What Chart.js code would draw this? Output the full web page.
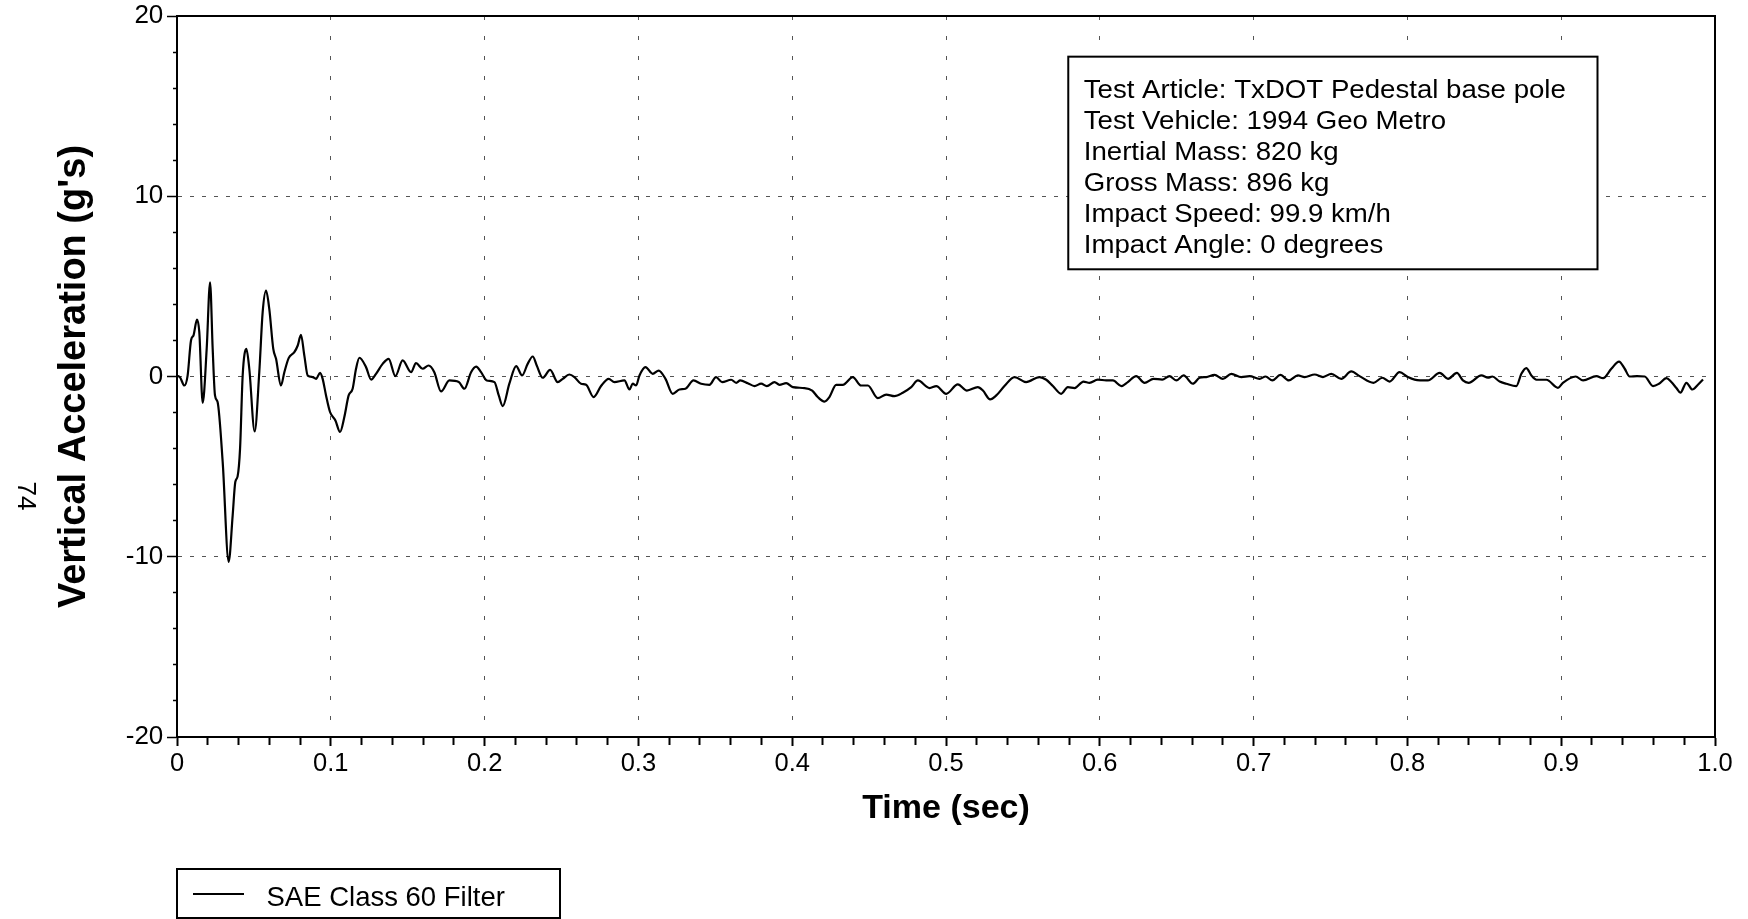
<!DOCTYPE html>
<html>
<head>
<meta charset="utf-8">
<script src="https://cdn.jsdelivr.net/npm/chart.js@4/dist/chart.umd.min.js"></script>
<style>
  html, body { margin: 0; padding: 0; background: #fff; }
  #c { display: block; }
</style>
</head>
<body>
<canvas id="c" width="1748" height="919"></canvas>
<script>
// ---- Data ----
const timeSec = [
  0, 0.002, 0.0048, 0.0069, 0.0091, 0.0108, 0.013, 0.0145, 0.0167, 0.0193,
  0.0215, 0.0232, 0.0247, 0.0264, 0.0297, 0.0336, 0.0362, 0.0379, 0.0394, 0.041,
  0.0427, 0.0451, 0.047, 0.0505, 0.0535, 0.0557, 0.0579, 0.06, 0.0626, 0.0644,
  0.0676, 0.0698, 0.0726, 0.0763, 0.0785, 0.0806, 0.0828, 0.085, 0.0882, 0.0904,
  0.093, 0.0947, 0.0969, 0.0995, 0.103, 0.106, 0.1088, 0.1116, 0.1142, 0.1164,
  0.1186, 0.1229, 0.1262, 0.1294, 0.1337, 0.1376, 0.142, 0.1467, 0.1522, 0.1554,
  0.1597, 0.1636, 0.1673, 0.1717, 0.1771, 0.1832, 0.1869, 0.1912, 0.1945, 0.1977,
  0.2014, 0.2064, 0.2092, 0.2118, 0.2161, 0.2205, 0.2244, 0.228, 0.2313, 0.2339,
  0.2378, 0.2426, 0.2475, 0.2508, 0.2551, 0.2584, 0.2627, 0.266, 0.2709, 0.2757,
  0.2807, 0.2844, 0.2909, 0.2942, 0.2963, 0.2985, 0.3007, 0.3046, 0.3093, 0.3132,
  0.3176, 0.3223, 0.3267, 0.3306, 0.3358, 0.3408, 0.3462, 0.3505, 0.3544, 0.3603,
  0.3636, 0.3662, 0.3711, 0.3755, 0.3798, 0.3835, 0.3885, 0.3917, 0.3961, 0.4004,
  0.408, 0.413, 0.4166, 0.421, 0.4242, 0.4286, 0.4329, 0.4394, 0.4448, 0.4492,
  0.4556, 0.4611, 0.4665, 0.4719, 0.4774, 0.4817, 0.4893, 0.4937, 0.5001, 0.5077,
  0.5136, 0.5207, 0.524, 0.5287, 0.5327, 0.538, 0.5446, 0.5521, 0.5608, 0.5652,
  0.5695, 0.5749, 0.5792, 0.5836, 0.5894, 0.5933, 0.5987, 0.6042, 0.6085, 0.614,
  0.6182, 0.6237, 0.6291, 0.6349, 0.6406, 0.6453, 0.6497, 0.6545, 0.6605, 0.6649,
  0.6692, 0.6746, 0.68, 0.6855, 0.692, 0.6974, 0.7039, 0.7078, 0.7122, 0.7174,
  0.7229, 0.7288, 0.7332, 0.7397, 0.7451, 0.7505, 0.757, 0.7635, 0.7689, 0.778,
  0.7837, 0.7884, 0.7949, 0.8003, 0.8047, 0.8133, 0.821, 0.8264, 0.8322, 0.8361,
  0.8398, 0.8481, 0.8524, 0.8552, 0.86, 0.8643, 0.8708, 0.8741, 0.8773, 0.8806,
  0.8839, 0.8904, 0.8979, 0.9011, 0.9094, 0.9142, 0.9229, 0.9272, 0.9326, 0.9376,
  0.9413, 0.9445, 0.9493, 0.9543, 0.9597, 0.9636, 0.9684, 0.9716, 0.9749, 0.9775,
  0.9814, 0.9853, 0.9889, 0.9922
];
const accelG = [
  0.05, -0.05, -0.5, 0.05, 2.0, 2.3, 3.16, 2.46, -1.46, 1.53,
  5.23, 1.53, -1.05, -1.42, -4.74, -10.28, -7.7, -5.85, -5.54, -4.0,
  0.05, 1.53, 0.43, -3.05, 0.24, 3.57, 4.76, 3.75, 1.53, 0.98,
  -0.5, 0.24, 1.02, 1.35, 1.72, 2.31, 1.16, 0.05, -0.03, -0.13,
  0.2, -0.13, -1.05, -1.97, -2.44, -3.08, -2.25, -1.05, -0.68, 0.43,
  1.04, 0.52, -0.17, 0.15, 0.7, 0.98, 0.02, 0.89, 0.24, 0.74,
  0.43, 0.61, 0.24, -0.83, -0.22, -0.31, -0.68, 0.24, 0.55, 0.24,
  -0.22, -0.31, -1.05, -1.64, -0.4, 0.58, 0.06, 0.7, 1.11, 0.61,
  -0.07, 0.37, -0.31, -0.13, 0.11, -0.03, -0.4, -0.46, -1.14, -0.53,
  -0.13, -0.31, -0.22, -0.72, -0.4, -0.5, 0.06, 0.52, 0.15, 0.33,
  -0.13, -0.96, -0.72, -0.68, -0.22, -0.4, -0.46, -0.03, -0.31, -0.18,
  -0.35, -0.22, -0.37, -0.53, -0.4, -0.53, -0.31, -0.46, -0.37, -0.59,
  -0.64, -0.78, -1.14, -1.39, -1.14, -0.46, -0.46, -0.03, -0.5, -0.5,
  -1.2, -1.0, -1.09, -0.9, -0.59, -0.22, -0.64, -0.53, -0.96, -0.44,
  -0.78, -0.59, -0.78, -1.27, -1.05, -0.53, -0.03, -0.31, -0.03, -0.18,
  -0.53, -0.96, -0.59, -0.64, -0.28, -0.35, -0.17, -0.22, -0.22, -0.53,
  -0.31, 0.02, -0.35, -0.13, -0.17, 0.02, -0.22, 0.06, -0.4, -0.07,
  -0.03, 0.09, -0.13, 0.15, -0.03, 0.02, -0.13, 0.0, -0.22, 0.09,
  -0.22, 0.06, -0.03, 0.11, -0.03, 0.15, -0.13, 0.28, 0.02, -0.35,
  -0.07, -0.28, 0.24, -0.03, -0.17, -0.22, 0.2, -0.13, 0.2, -0.22,
  -0.35, 0.06, -0.07, 0.0, -0.28, -0.4, -0.53, 0.15, 0.47, 0.06,
  -0.18, -0.18, -0.63, -0.35, 0.0, -0.22, 0.02, -0.09, 0.43, 0.83,
  0.43, 0.0, 0.02, 0.0, -0.53, -0.4, -0.09, -0.31, -0.64, -0.9,
  -0.35, -0.72, -0.46, -0.17
];
const seriesLabel = 'SAE Class 60 Filter';
const xTickValues = [0, 0.1, 0.2, 0.3, 0.4, 0.5, 0.6, 0.7, 0.8, 0.9, 1.0];
const xTickLabels = ['0', '0.1', '0.2', '0.3', '0.4', '0.5', '0.6', '0.7', '0.8', '0.9', '1.0'];
const yTickValues = [-20, -10, 0, 10, 20];
const yTickLabels = ['-20', '-10', '0', '10', '20'];
const xTitle = 'Time (sec)';
const yTitle = "Vertical Acceleration (g's)";
const infoLines = [
  'Test Article: TxDOT Pedestal base pole',
  'Test Vehicle: 1994 Geo Metro',
  'Inertial Mass: 820 kg',
  'Gross Mass: 896 kg',
  'Impact Speed: 99.9 km/h',
  'Impact Angle: 0 degrees'
];
const pageNumber = '74';

// ---- Helpers ----
const FONT = "'Liberation Sans', Arial, Helvetica, sans-serif";
const near = (a, b) => Math.abs(a - b) < 1e-6;
function labelFor(values, labels, v) {
  for (let i = 0; i < values.length; i++) if (near(values[i], v)) return labels[i];
  return '';
}
function isMajor(values, v) {
  return values.some(m => near(m, v));
}
function isInnerMajor(values, v) {
  for (let i = 1; i < values.length - 1; i++) if (near(values[i], v)) return true;
  return false;
}

const points = timeSec.map((t, i) => ({ x: t, y: accelG[i] }));

Chart.defaults.font.family = FONT;
Chart.defaults.color = '#000';

const X_TICK = 9, X_MINOR = 7;
const Y_TICK = 10, Y_MINOR = 4;

const decorPlugin = {
  id: 'decor',
  beforeDatasetsDraw(chart) {
    const { ctx, chartArea: a } = chart;
    ctx.save();
    ctx.strokeStyle = '#000';
    ctx.lineWidth = 2;
    ctx.beginPath();
    ctx.moveTo(a.left, a.top);
    ctx.lineTo(a.right, a.top);
    ctx.lineTo(a.right, a.bottom);
    ctx.stroke();
    ctx.restore();
  },
  afterDraw(chart) {
    const { ctx, chartArea: a } = chart;
    const w = a.right - a.left, h = a.bottom - a.top;
    ctx.save();
    // info box
    const bx = a.left + w * 0.5795, by = a.top + h * 0.0564;
    const bw = w * 0.3441, bh = h * 0.2949;
    ctx.fillStyle = '#fff';
    ctx.fillRect(bx, by, bw, bh);
    ctx.strokeStyle = '#000';
    ctx.lineWidth = 2;
    ctx.strokeRect(bx, by, bw, bh);
    ctx.fillStyle = '#000';
    ctx.font = '25px ' + FONT;
    ctx.textAlign = 'left';
    ctx.textBaseline = 'alphabetic';
    infoLines.forEach((ln, i) => {
      ctx.save();
      ctx.translate(bx + 15.5, by + 41 + i * 31.1);
      ctx.scale(1.105, 1);
      ctx.fillText(ln, 0, 0);
      ctx.restore();
    });

    // legend box
    const lx = a.left, ly = 869, lw = 383, lh = 49;
    ctx.lineWidth = 2;
    ctx.strokeRect(lx, ly, lw, lh);
    ctx.beginPath();
    ctx.moveTo(lx + 16, 894);
    ctx.lineTo(lx + 67, 894);
    ctx.lineWidth = 2;
    ctx.stroke();
    ctx.font = '27.5px ' + FONT;
    ctx.textBaseline = 'alphabetic';
    ctx.fillText(chart.data.datasets[0].label, lx + 89.5, 906);

    // page number (rotated)
    ctx.translate(25, 496);
    ctx.rotate(Math.PI / 2);
    ctx.font = '26px ' + FONT;
    ctx.textAlign = 'center';
    ctx.textBaseline = 'middle';
    ctx.fillText(pageNumber, 0, 0);
    ctx.restore();
  }
};

new Chart(document.getElementById('c'), {
  type: 'line',
  data: {
    datasets: [{
      label: seriesLabel,
      data: points,
      borderColor: '#000',
      borderWidth: 2.2,
      pointRadius: 0,
      fill: false,
      cubicInterpolationMode: 'monotone'
    }]
  },
  options: {
    responsive: false,
    animation: false,
    devicePixelRatio: 1,
    layout: { padding: { left: 0, right: 33, top: 16, bottom: 0 } },
    plugins: { legend: { display: false }, tooltip: { enabled: false } },
    scales: {
      x: {
        type: 'linear',
        min: 0, max: 1,
        afterBuildTicks(scale) {
          const t = [];
          for (let i = 0; i <= 50; i++) t.push({ value: i / 50 });
          scale.ticks = t;
        },
        afterFit(scale) {
          scale.height = 182;
          scale.paddingLeft = 0; scale.paddingRight = 0;
        },
        ticks: {
          autoSkip: false, maxRotation: 0, minRotation: 0,
          padding: 11.5 - X_TICK,
          font: { size: 25.5 },
          color: '#000',
          callback: (v) => labelFor(xTickValues, xTickLabels, v)
        },
        grid: {
          drawOnChartArea: true,
          color: (c) => (c.tick && isInnerMajor(xTickValues, c.tick.value)) ? '#555' : 'rgba(0,0,0,0)',
          lineWidth: 1,
          tickLength: X_TICK,
          tickColor: '#000',
          tickWidth: 2,
          tickBorderDash: (c) => (c.tick && isMajor(xTickValues, c.tick.value)) ? [] : [X_MINOR, 100]
        },
        border: { display: true, color: '#000', width: 2, dash: [4, 16] },
        title: {
          display: true, text: xTitle,
          font: { size: 34, weight: 'bold' },
          color: '#000',
          padding: { top: 0, bottom: 89.6 }
        }
      },
      y: {
        type: 'linear',
        min: -20, max: 20,
        afterBuildTicks(scale) {
          const t = [];
          for (let i = 0; i <= 20; i++) t.push({ value: -20 + 2 * i });
          scale.ticks = t;
        },
        afterFit(scale) {
          scale.width = 177;
          scale.paddingTop = 0; scale.paddingBottom = 0;
        },
        ticks: {
          autoSkip: false,
          padding: 177 - 163.3 - Y_TICK,
          font: { size: 26 },
          color: '#000',
          callback: (v) => labelFor(yTickValues, yTickLabels, v)
        },
        grid: {
          drawOnChartArea: true,
          color: (c) => (c.tick && isInnerMajor(yTickValues, c.tick.value)) ? '#555' : 'rgba(0,0,0,0)',
          lineWidth: 1,
          tickLength: Y_TICK,
          tickColor: '#000',
          tickWidth: 1.5,
          tickBorderDash: (c) => (c.tick && isMajor(yTickValues, c.tick.value)) ? [] : [0, Y_TICK - Y_MINOR, Y_MINOR, 100]
        },
        border: { display: true, color: '#000', width: 2, dash: [4, 8] },
        title: {
          display: true, text: yTitle,
          font: { size: 38, weight: 'bold' },
          color: '#000',
          padding: { top: 52, bottom: 0 }
        }
      }
    }
  },
  plugins: [decorPlugin]
});
</script>
</body>
</html>
